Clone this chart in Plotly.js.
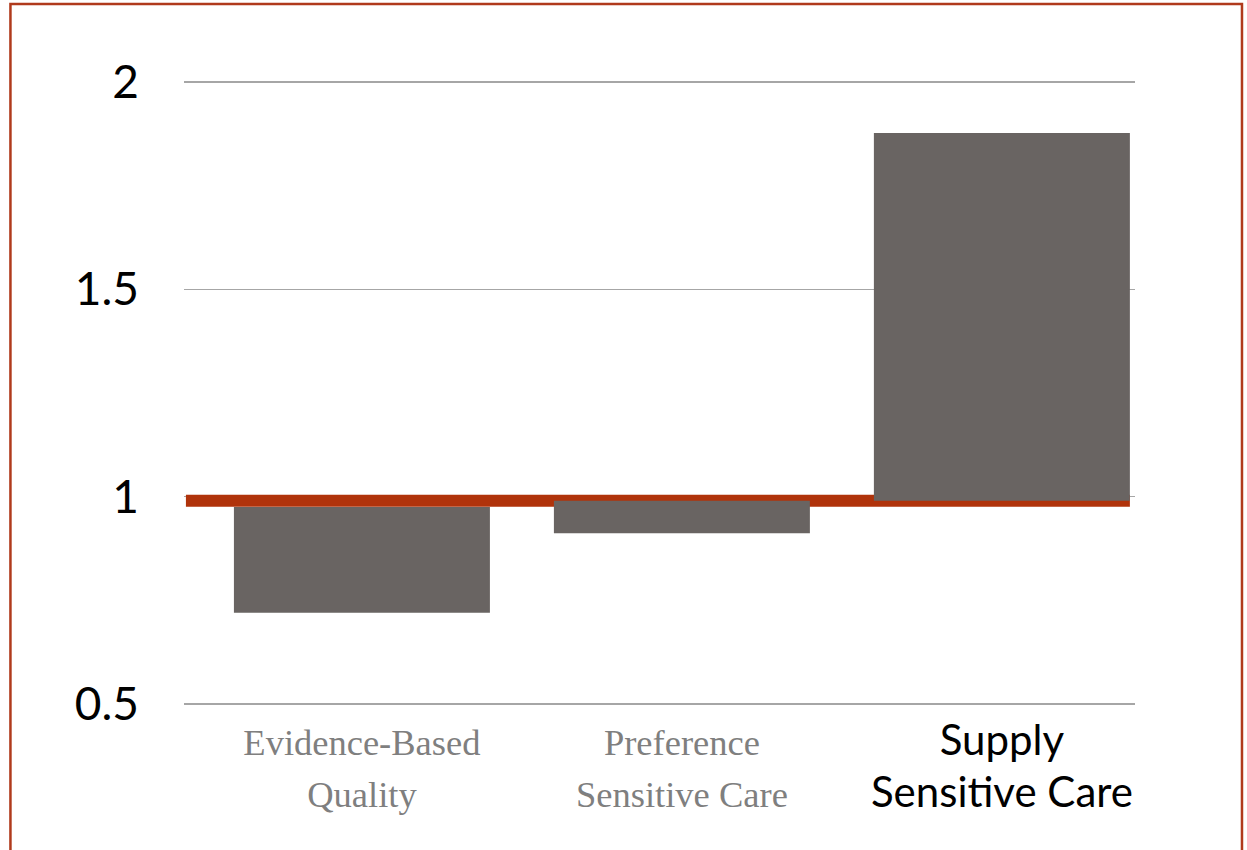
<!DOCTYPE html>
<html>
<head>
<meta charset="utf-8">
<script src="https://cdn.plot.ly/plotly-3.0.1.min.js"></script>
<style>
  html, body { margin: 0; padding: 0; background: #ffffff; }
  #chart { width: 1247px; height: 850px; }
</style>
</head>
<body>
<div id="chart"></div>
<script>
// Categories of care and the span of each floating bar (ratio scale)
const categories = ['Evidence-Based Quality', 'Preference Sensitive Care', 'Supply Sensitive Care'];
const lowValues  = [0.72, 0.912, 0.99];
const highValues = [0.975, 0.99, 1.877];
const referenceLevel = 0.99;

// Axis labels: two serif grey, the last one emphasised in black sans
const serifStyle = "font-family:'Liberation Serif',serif;font-size:36.5px;color:#7f7f7f";
const sansStyle = "font-family:Lato,'Noto Sans',sans-serif;font-size:42px;color:#000000";
const tickLabels = [
  `<span style="${serifStyle}">Evidence-Based</span><br><span style="${serifStyle}">Quality</span>`,
  `<span style="${serifStyle}">Preference</span><br><span style="${serifStyle}">Sensitive Care</span>`,
  `<span style="${sansStyle}">Supply</span><br><span style="${sansStyle}">Sensitive Care</span>`
];
const yTicks = [0.5, 1, 1.5, 2];
const yTickText = ['0.5', '1', '1.5', '2'];

const bars = {
  type: 'bar',
  x: categories,
  base: lowValues,
  y: highValues.map((h, i) => h - lowValues[i]),
  width: 0.8,
  marker: { color: '#696462', line: { width: 0 } },
  hoverinfo: 'skip'
};

const layout = {
  width: 1247,
  height: 850,
  margin: { l: 184, r: 112, t: 78, b: 142 },
  paper_bgcolor: '#ffffff',
  plot_bgcolor: '#ffffff',
  showlegend: false,
  xaxis: {
    type: 'category',
    range: [-0.556, 2.416],
    tickmode: 'array',
    tickvals: categories,
    ticktext: tickLabels,
    tickfont: { family: "Liberation Serif, serif", size: 40, color: '#7f7f7f' },
    ticklabelstandoff: 6,
    showgrid: false,
    zeroline: false,
    showline: false,
    ticks: ''
  },
  yaxis: {
    range: [0.4904, 2.0096],
    tickmode: 'array',
    tickvals: yTicks,
    ticktext: yTickText,
    tickfont: { family: "Lato, 'Noto Sans', sans-serif", size: 46, color: '#000000' },
    ticklabelstandoff: 44,
    showgrid: true,
    gridcolor: '#a6a6a6',
    gridwidth: 1.2,
    zeroline: false,
    showline: false,
    ticks: ''
  },
  shapes: [
    {
      type: 'line', xref: 'x', yref: 'y', layer: 'between',
      x0: -0.55, x1: 2.4, y0: referenceLevel, y1: referenceLevel,
      line: { color: '#b0330b', width: 12 }
    },
    {
      type: 'rect', xref: 'paper', yref: 'paper', layer: 'above',
      x0: -0.1825, x1: 1.1125, y0: -0.25, y1: 1.1175,
      line: { color: '#b03a1c', width: 2.5 },
      fillcolor: 'rgba(0,0,0,0)'
    }
  ]
};

Plotly.newPlot('chart', [bars], layout, { displayModeBar: false, staticPlot: true });
</script>
</body>
</html>
